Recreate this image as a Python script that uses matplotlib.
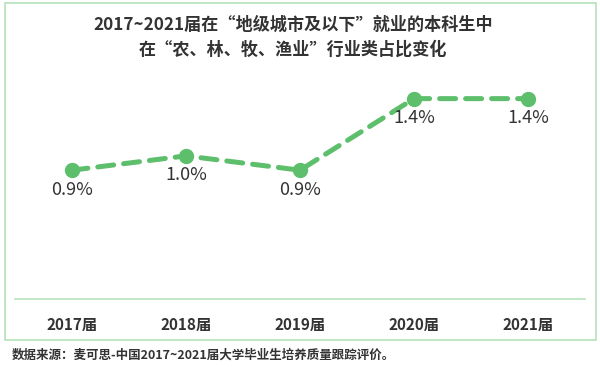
import matplotlib
matplotlib.use("Agg")
from matplotlib import pyplot as plt
from matplotlib.patches import Rectangle

plt.rcParams['font.family'] = ['Noto Sans CJK SC', 'DejaVu Sans']

years = ['2017届', '2018届', '2019届', '2020届', '2021届']
shares = [0.9, 1.0, 0.9, 1.4, 1.4]
labels = ['0.9%', '1.0%', '0.9%', '1.4%', '1.4%']

title = '2017~2021届在“地级城市及以下”就业的本科生中\n在“农、林、牧、渔业”行业类占比变化'
source = '数据来源：麦可思-中国2017~2021届大学毕业生培养质量跟踪评价。'

green = '#5dbf6c'
text_color = '#333333'

fig = plt.figure(figsize=(6, 3.67), dpi=100)
ax = fig.add_axes([15 / 600, 1 - 299 / 367, 570 / 600, 229 / 367])

x = list(range(len(years)))
ax.plot(x, shares, color=green, lw=3.6, dashes=(3.2, 2.0),
        marker='o', markersize=10, markerfacecolor=green, markeredgecolor=green,
        solid_capstyle='round', dash_capstyle='round')

for xi, yi, lab in zip(x, shares, labels):
    ax.annotate(lab, (xi, yi), xytext=(0, -14), textcoords='offset points',
                ha='center', va='center', fontsize=13, color=text_color)

ax.set_xlim(-0.5, 4.5)
ax.set_ylim(0, 1.6)
ax.set_yticks([])
ax.set_xticks(x)
ax.set_xticklabels(years, fontsize=11, fontweight='bold', color=text_color)
ax.tick_params(axis='x', length=0, pad=13)
for side in ['top', 'right', 'left']:
    ax.spines[side].set_visible(False)
ax.spines['bottom'].set_color('#b8e3be')
ax.spines['bottom'].set_linewidth(1.2)

# light green frame around the chart
fig.patches.append(Rectangle((5 / 600, 1 - 340 / 367), 591 / 600, 337 / 367,
                             transform=fig.transFigure, fill=False,
                             edgecolor='#b4e2bb', linewidth=1.2))

fig.text(293 / 600, 1 - 37 / 367, title, ha='center', va='center',
         fontsize=12.3, fontweight='bold', color=text_color, linespacing=1.5)
fig.text(12 / 600, 1 - 355 / 367, source, ha='left', va='center',
         fontsize=9, fontweight='bold', color=text_color)

fig.savefig('out.png', dpi=100)
